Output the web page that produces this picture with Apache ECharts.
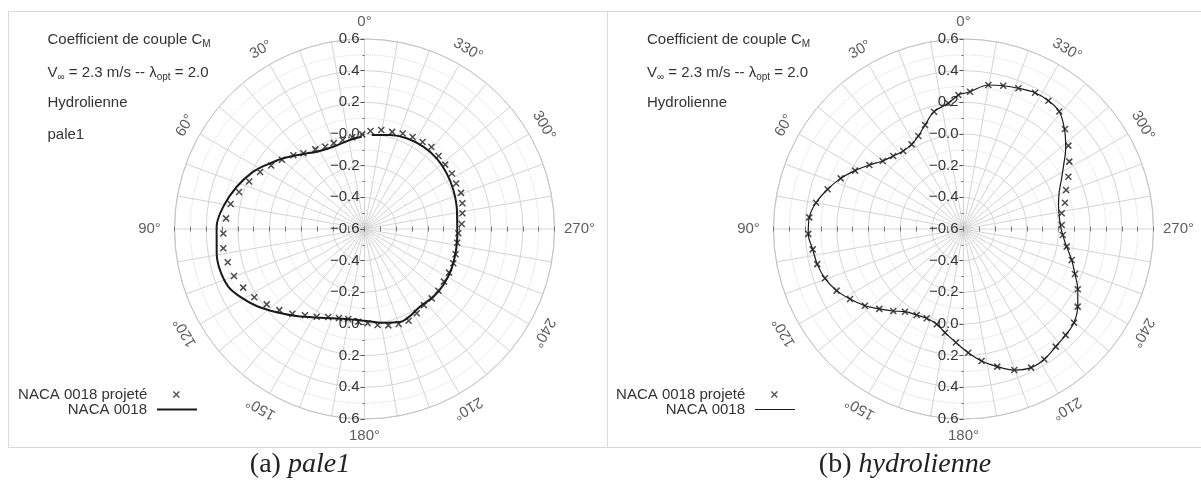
<!DOCTYPE html>
<html><head><meta charset="utf-8">
<script src="https://cdn.jsdelivr.net/npm/echarts@6/dist/echarts.min.js"></script>
<style>html,body{margin:0;padding:0;background:#fff}#c{width:1201px;height:491px}</style>
</head><body><div id="c"></div>
<script>
// ---------- data ----------
const angleTickLabels = ['0°','30°','60°','90°','120°','150°','180°','210°','240°','270°','300°','330°'];
const angleTickValues = [0,30,60,90,120,150,180,210,240,270,300,330];

// pale1 : NACA 0018 (line)
const pale1LineAngles = [1.7,9.3,20.8,31.7,39.2,48.9,55.2,62.7,71.7,81,89.1,99.3,105.8,112.9,118.5,125.5,133.5,142.1,153.4,166.7,179.3,191.3,200.9,206.4,215.5,225.5,234.6,245.7,257.1,267.3,271.4,283.6,293.7,304.1,314.4,324.5,335.1,344.8,355.6];
const pale1LineValues = [-0.017,-0.03,-0.044,-0.026,0.011,0.08,0.127,0.19,0.25,0.303,0.334,0.346,0.349,0.334,0.295,0.237,0.164,0.097,0.027,-0.018,-0.021,0.004,0.029,0.023,0.003,0.01,0.011,0.004,-0.007,-0.013,-0.014,-0.001,0.013,0.027,0.038,0.039,0.032,0.015,-0.004];
// pale1 : NACA 0018 projeté (markers)
const pale1MarkAngles = [1.4,7.6,13.7,19.7,25.5,31.7,38.9,44,50,55.8,61.4,67.6,73.6,79.4,85.6,91.8,97.8,103.7,109.8,115.8,121.8,127.6,133.6,139.6,145.4,151.4,157.6,164,169.8,176.2,181.9,187.8,193.9,199.8,205.7,211.8,218,224.1,230.1,236.5,242.7,248.9,254.5,261.6,267.4,272.9,279.1,284.7,290.5,296.4,302.4,308.6,314.6,320.8,326.3,332.4,338.2,344.1,350.4,356.5];
const pale1MarkValues = [-0.002,-0.015,-0.021,-0.024,-0.024,-0.009,0.015,0.047,0.081,0.113,0.151,0.188,0.226,0.26,0.277,0.292,0.3,0.289,0.276,0.251,0.219,0.18,0.143,0.103,0.062,0.031,0.001,-0.015,-0.023,-0.013,-0.004,0.012,0.027,0.038,0.043,0.026,0.01,0.01,0.008,0.002,0.001,0.001,-0.003,-0.008,-0.007,0.015,0.026,0.039,0.051,0.046,0.054,0.052,0.057,0.068,0.061,0.056,0.05,0.038,0.034,0.02];

// hydrolienne : markers
const hydroMarkAngles = [2.2,6.9,14.1,20.3,25.9,31.5,37.7,43.9,49.9,55.8,61.7,67.6,73.7,79.9,85.7,91.8,97.7,103.5,109.6,115.9,121.7,127.9,133.5,139.4,144.7,151.4,157.6,164.3,169.9,176.2,182.2,187.8,193.8,199.8,206,211.8,218.1,223.9,229.7,235.8,242.2,248,254,260.3,266.5,272.3,279.1,284.5,290.8,296.5,302.5,308.5,314.6,320.8,326.5,332.3,338.7,344.5,350.2,357.3];
const hydroMarkValues = [0.247,0.2,0.164,0.1,0.053,0.027,0.022,0.04,0.067,0.119,0.178,0.239,0.294,0.346,0.377,0.381,0.361,0.35,0.329,0.291,0.242,0.189,0.133,0.082,0.04,0.018,0.01,0.025,0.065,0.119,0.182,0.241,0.295,0.347,0.374,0.368,0.344,0.33,0.315,0.272,0.216,0.159,0.111,0.061,0.028,0.021,0.028,0.062,0.093,0.14,0.192,0.246,0.3,0.357,0.371,0.372,0.354,0.339,0.323,0.268];
// hydrolienne : line
const hydroLineAngles = [0,2.2,6.9,14.1,20.3,25.9,31.5,37.7,43.9,49.9,55.8,61.7,67.6,73.7,79.9,85.7,91.8,97.7,103.5,109.6,115.9,121.7,127.9,133.5,139.4,144.7,151.4,157.6,164.3,169.9,176.2,182.2,187.8,193.8,199.8,206,211.8,218.1,223.9,229.7,235.8,242.2,248,254,260.3,266.5,272.3,279.1,284.5,290.8,296.5,302.5,308.5,314.6,320.8,326.5,332.3,338.7,344.5,350.2,357.3,360];
const hydroLineValues = [0.256,0.247,0.2,0.164,0.1,0.053,0.027,0.022,0.04,0.067,0.119,0.178,0.239,0.294,0.346,0.377,0.381,0.361,0.35,0.329,0.291,0.242,0.189,0.133,0.082,0.04,0.018,0.01,0.025,0.065,0.119,0.182,0.241,0.295,0.347,0.374,0.368,0.344,0.33,0.315,0.272,0.216,0.159,0.111,0.061,0.028,0.012,0.011,0.02,0.046,0.09,0.15,0.225,0.296,0.357,0.371,0.372,0.354,0.339,0.323,0.268,0.256];

// ---------- chart ----------
const FONT = 'Liberation Sans, Arial, sans-serif';
const TXT = '#333';
const GRID = '#d4d4d4';
const CY = 229, R = 190, RING = 207;
const XPATH = 'path://M0,0L10,10M10,0L0,10';

function fmtTop(v){ if (Math.abs(v) < 1e-9) return '\u22120.0'; return (v < 0 ? '\u2212' : '') + Math.abs(v).toFixed(1); }
function fmtBot(v){ if (Math.abs(v) < 1e-9) return '0.0'; return (v < 0 ? '\u2212' : '') + Math.abs(v).toFixed(1); }

const polar = [], angleAxis = [], radiusAxis = [], series = [], legend = [], graphic = [];

function panel(cx, lineA, lineV, markA, markV, lineW, iconRightEdge) {
  const base = polar.length;
  // 0 main
  polar.push({center:[cx, CY], radius: R});
  angleAxis.push({polarIndex: base, type:'value', min:0, max:360, interval:10, startAngle:90, clockwise:false,
    axisLine:{show:true, lineStyle:{color:'#c4c4c4', width:1}}, axisTick:{show:false}, axisLabel:{show:false},
    splitLine:{show:true, lineStyle:{color:GRID, width:1}}});
  radiusAxis.push({polarIndex: base, type:'value', min:-0.6, max:0.6, interval:0.2,
    axisLine:{show:false},
    axisTick:{show:true, length:4, lineStyle:{color:'#555'}},
    minorTick:{show:true, splitNumber:2, length:2, lineStyle:{color:'#666'}},
    axisLabel:{show:true, fontSize:15, fontFamily:FONT, color:TXT, margin:5, formatter:fmtTop},
    splitLine:{show:true, lineStyle:{color:GRID, width:1}},
    minorSplitLine:{show:true, lineStyle:{color:'#d8d8d8', width:1, type:'dotted'}}});
  // 1 bottom labels
  polar.push({center:[cx, CY], radius: R});
  angleAxis.push({polarIndex: base+1, type:'value', min:0, max:360, startAngle:270, clockwise:false, show:false});
  radiusAxis.push({polarIndex: base+1, type:'value', min:-0.6, max:0.6, interval:0.2,
    axisLine:{show:false}, splitLine:{show:false},
    axisTick:{show:true, length:-4, lineStyle:{color:'#555'}},
    minorTick:{show:true, splitNumber:2, length:-2, lineStyle:{color:'#666'}},
    axisLabel:{show:true, showMinLabel:false, fontSize:15, fontFamily:FONT, color:TXT, margin:-5, align:'right', formatter:fmtBot}});
  // horizontal ticks crossing the 90°-270° line (both sides)
  [[180,2.5],[180,-2.5],[0,2.5],[0,-2.5]].forEach(([sa, len]) => {
    const idx = polar.length;
    polar.push({center:[cx, CY], radius: R});
    angleAxis.push({polarIndex: idx, type:'value', min:0, max:360, startAngle:sa, clockwise:false, show:false});
    radiusAxis.push({polarIndex: idx, type:'value', min:-0.6, max:0.6, interval:0.1,
      axisLine:{show:false}, splitLine:{show:false}, axisLabel:{show:false},
      axisTick:{show:true, length:len, lineStyle:{color:'#777'}}});
  });
  // angle label ring
  const ring = polar.length;
  polar.push({center:[cx, CY], radius: RING});
  angleAxis.push({polarIndex: ring, type:'value', min:0, max:360, startAngle:90, clockwise:false, show:false});
  radiusAxis.push({polarIndex: ring, type:'value', min:0, max:1, show:false});

  series.push({type:'scatter', coordinateSystem:'polar', polarIndex: ring, symbolSize:1, silent:true,
    itemStyle:{color:'rgba(0,0,0,0)'},
    data: angleTickValues.map((a,i) => ({name: angleTickLabels[i], value:[1, a],
      label:{rotate: (a % 90 === 0) ? 0 : a, offset: a === 90 ? [-8,0] : (a === 270 ? [8,0] : [0,0])}})),
    label:{show:true, position:'inside', formatter: p => p.name, fontSize:15, fontFamily:FONT, color:TXT}});

  series.push({name:'NACA 0018', type:'line', coordinateSystem:'polar', polarIndex: base, showSymbol:false, symbol:'none',
    smooth:0.35, lineStyle:{color:'#1a1a1a', width:lineW}, itemStyle:{color:'#1a1a1a'}, silent:true,
    data: lineA.map((a,i) => [lineV[i], a]), z:5});
  series.push({name:'NACA 0018 projeté', type:'scatter', coordinateSystem:'polar', polarIndex: base, symbol:XPATH, symbolSize:6,
    itemStyle:{color:'rgba(0,0,0,0)', borderColor:'#1e1e1e', borderWidth:1.5}, silent:true,
    data: markA.map((a,i) => [markV[i], a]), z:6});

  legend.push({data:[{name:'NACA 0018 projeté', icon:XPATH, itemStyle:{color:'rgba(0,0,0,0)', borderColor:'#222', borderWidth:1.3}}],
    right: 1201 - (iconRightEdge - 17), top: 387, align:'right', orient:'vertical', itemWidth:6, itemHeight:6, selectedMode:false, padding:0,
    textStyle:{fontSize:15, fontFamily:FONT, color:TXT, padding:[0,21,0,0]}});
  legend.push({data:[{name:'NACA 0018', icon:'rect', itemStyle:{color:'#1a1a1a', borderWidth:0}}],
    right: 1201 - iconRightEdge, top: 402, align:'right', orient:'vertical', itemWidth:40, itemHeight:lineW, selectedMode:false, padding:0,
    textStyle:{fontSize:15, fontFamily:FONT, color:TXT, padding:[0,5,0,0]}});
}

panel(364.5, pale1LineAngles, pale1LineValues, pale1MarkAngles, pale1MarkValues, 2, 197);
panel(963.5, hydroLineAngles, hydroLineValues, hydroMarkAngles, hydroMarkValues, 1.2, 795);

// annotations & frames
const rich = {
  a:{fontSize:15, fontFamily:FONT, fill:TXT, lineHeight:18},
  s:{fontSize:10, fontFamily:FONT, fill:TXT, lineHeight:6, verticalAlign:'bottom'}
};
function note(x, y, text){ graphic.push({type:'text', x:x, y:y, silent:true, style:{text:text, rich:rich, fontSize:15, fontFamily:FONT, fill:TXT, verticalAlign:'middle'}}); }
[[47.5, true],[647, false]].forEach(([x, isPale]) => {
  note(x, 40, '{a|Coefficient de couple C}{s|M}');
  note(x, 73, '{a|V}{s|\u221e}{a| = 2.3 m/s -- \u03bb}{s|opt}{a| = 2.0}');
  note(x, 103, '{a|Hydrolienne}');
  if (isPale) note(x, 135, '{a|pale1}');
});
graphic.push({type:'rect', silent:true, shape:{x:8.5, y:11.5, width:599, height:436}, style:{fill:'none', stroke:'#dadada', lineWidth:1}});
graphic.push({type:'rect', silent:true, shape:{x:607.5, y:11.5, width:600, height:436}, style:{fill:'none', stroke:'#dadada', lineWidth:1}});
const capRich = {
  n:{fontSize:28, fontFamily:'Liberation Serif, serif', fill:'#222'},
  i:{fontSize:28, fontFamily:'Liberation Serif, serif', fontStyle:'italic', fill:'#222'}
};
graphic.push({type:'text', x:300, y:465, silent:true, style:{text:'{n|(a) }{i|pale1}', rich:capRich, align:'center', verticalAlign:'middle'}});
graphic.push({type:'text', x:905, y:465, silent:true, style:{text:'{n|(b) }{i|hydrolienne}', rich:capRich, align:'center', verticalAlign:'middle'}});

const chart = echarts.init(document.getElementById('c'), null, {renderer:'canvas'});
chart.setOption({backgroundColor:'#fff', animation:false, polar, angleAxis, radiusAxis, series, legend, graphic});
</script></body></html>
